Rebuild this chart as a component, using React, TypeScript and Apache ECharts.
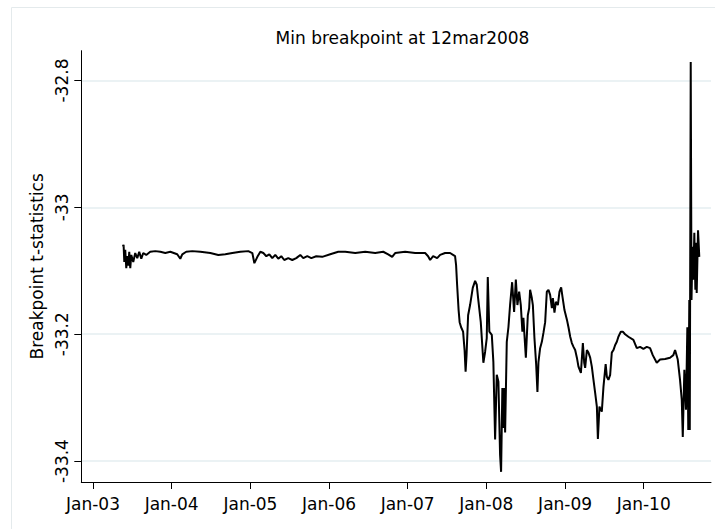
import React, { useEffect, useRef } from "react";
import * as echarts from "echarts";

// x values as decimal years, y values as breakpoint t-statistics
const decYears = [
  2003.379, 2003.389, 2003.398, 2003.410, 2003.423, 2003.436, 2003.449, 2003.461, 2003.474, 2003.487,
  2003.512, 2003.537, 2003.563, 2003.588, 2003.614, 2003.639, 2003.677, 2003.728, 2003.792, 2003.856,
  2003.919, 2003.983, 2004.071, 2004.110, 2004.135, 2004.185, 2004.262, 2004.364, 2004.491, 2004.592,
  2004.681, 2004.770, 2004.872, 2004.973, 2005.024, 2005.050, 2005.088, 2005.126, 2005.164, 2005.202,
  2005.240, 2005.278, 2005.316, 2005.354, 2005.392, 2005.430, 2005.481, 2005.532, 2005.583, 2005.634,
  2005.672, 2005.723, 2005.774, 2005.837, 2005.913, 2006.015, 2006.117, 2006.206, 2006.333, 2006.460,
  2006.587, 2006.689, 2006.752, 2006.803, 2006.841, 2006.968, 2007.095, 2007.222, 2007.260, 2007.286,
  2007.324, 2007.375, 2007.413, 2007.476, 2007.540, 2007.603, 2007.616, 2007.629, 2007.648, 2007.661,
  2007.680, 2007.705, 2007.724, 2007.737, 2007.749, 2007.769, 2007.794, 2007.828, 2007.858, 2007.879,
  2007.896, 2007.930, 2007.963, 2007.985, 2008.006, 2008.019, 2008.039, 2008.070, 2008.090, 2008.112,
  2008.133, 2008.154, 2008.175, 2008.188, 2008.204, 2008.217, 2008.230, 2008.239, 2008.260, 2008.281,
  2008.302, 2008.328, 2008.353, 2008.375, 2008.395, 2008.417, 2008.438, 2008.458, 2008.471, 2008.502,
  2008.527, 2008.544, 2008.556, 2008.578, 2008.591, 2008.611, 2008.633, 2008.649, 2008.662, 2008.683,
  2008.705, 2008.725, 2008.747, 2008.768, 2008.789, 2008.810, 2008.832, 2008.845, 2008.865, 2008.883,
  2008.908, 2008.929, 2008.950, 2008.967, 2008.992, 2009.023, 2009.043, 2009.065, 2009.086, 2009.107,
  2009.128, 2009.150, 2009.170, 2009.201, 2009.226, 2009.243, 2009.255, 2009.277, 2009.297, 2009.319,
  2009.340, 2009.361, 2009.382, 2009.404, 2009.417, 2009.437, 2009.452, 2009.467, 2009.488, 2009.516,
  2009.531, 2009.551, 2009.573, 2009.594, 2009.615, 2009.637, 2009.658, 2009.678, 2009.709, 2009.734,
  2009.763, 2009.805, 2009.869, 2009.912, 2009.954, 2009.996, 2010.039, 2010.081, 2010.115, 2010.166,
  2010.208, 2010.272, 2010.335, 2010.377, 2010.399, 2010.433, 2010.462, 2010.484, 2010.497, 2010.517,
  2010.538, 2010.555, 2010.567, 2010.580, 2010.586, 2010.598, 2010.608, 2010.621, 2010.631, 2010.644,
  2010.657, 2010.666, 2010.674, 2010.691, 2010.707,
];

const tStats = [
  -33.062, -33.059, -33.086, -33.067, -33.096, -33.077, -33.092, -33.070, -33.096, -33.075,
  -33.086, -33.072, -33.080, -33.070, -33.081, -33.072, -33.075, -33.070, -33.069, -33.070,
  -33.072, -33.070, -33.074, -33.081, -33.074, -33.070, -33.069, -33.070, -33.072, -33.075,
  -33.074, -33.072, -33.070, -33.069, -33.072, -33.088, -33.078, -33.070, -33.072, -33.077,
  -33.074, -33.080, -33.075, -33.081, -33.077, -33.083, -33.080, -33.083, -33.080, -33.075,
  -33.080, -33.077, -33.080, -33.077, -33.078, -33.074, -33.070, -33.070, -33.072, -33.070,
  -33.072, -33.070, -33.074, -33.078, -33.072, -33.070, -33.072, -33.072, -33.077, -33.083,
  -33.077, -33.080, -33.075, -33.072, -33.072, -33.077, -33.091, -33.122, -33.162, -33.181,
  -33.189, -33.196, -33.225, -33.259, -33.233, -33.170, -33.154, -33.127, -33.116, -33.122,
  -33.143, -33.181, -33.245, -33.228, -33.206, -33.110, -33.196, -33.201, -33.244, -33.366,
  -33.264, -33.275, -33.390, -33.417, -33.285, -33.348, -33.285, -33.355, -33.212, -33.189,
  -33.154, -33.118, -33.165, -33.114, -33.154, -33.133, -33.154, -33.196, -33.174, -33.237,
  -33.170, -33.159, -33.130, -33.143, -33.154, -33.206, -33.248, -33.291, -33.244, -33.222,
  -33.212, -33.198, -33.181, -33.133, -33.130, -33.138, -33.159, -33.143, -33.166, -33.149,
  -33.154, -33.133, -33.126, -33.141, -33.162, -33.177, -33.189, -33.204, -33.214, -33.220,
  -33.225, -33.237, -33.251, -33.261, -33.214, -33.245, -33.253, -33.225, -33.229, -33.237,
  -33.251, -33.272, -33.292, -33.314, -33.365, -33.314, -33.319, -33.322, -33.283, -33.247,
  -33.267, -33.272, -33.264, -33.229, -33.225, -33.217, -33.212, -33.204, -33.196, -33.196,
  -33.200, -33.204, -33.209, -33.222, -33.220, -33.223, -33.220, -33.222, -33.233, -33.245,
  -33.240, -33.239, -33.237, -33.233, -33.225, -33.240, -33.272, -33.303, -33.362, -33.256,
  -33.319, -33.189, -33.351, -33.146, -33.351, -32.771, -33.146, -33.062, -33.114, -33.040,
  -33.130, -33.056, -33.135, -33.036, -33.078,
];

const tickYears = [2003, 2004, 2005, 2006, 2007, 2008, 2009, 2010];
const yTicks = [-33.4, -33.2, -33, -32.8];
const xRange = [2002.851, 2010.856];
const yRange = [-33.433, -32.753];
const titleText = "Min breakpoint at 12mar2008";
const yAxisTitle = "Breakpoint t-statistics";

function decToTs(d: number): number {
  const y = Math.floor(d);
  const s = Date.UTC(y, 0, 1);
  const e = Date.UTC(y + 1, 0, 1);
  return s + (d - y) * (e - s);
}

const FONT = "DejaVu Sans";

export default function App() {
  const ref = useRef<HTMLDivElement>(null);
  useEffect(() => {
    if (!ref.current) return;
    const chart = echarts.init(ref.current, undefined, { renderer: "svg" });
    const data = decYears.map((d, i) => [decToTs(d), tStats[i]]);
    const xTicks = tickYears.map((y) => Date.UTC(y, 0, 1));
    chart.setOption({
      animation: false,
      backgroundColor: "#ffffff",
      textStyle: { fontFamily: FONT },
      graphic: [
        {
          type: "rect",
          z: -100,
          silent: true,
          shape: { x: 11.5, y: 7.5, width: 730, height: 540 },
          style: { fill: "#ffffff", stroke: "#e4eaec", lineWidth: 1 },
        },
        {
          type: "text",
          x: 402.5,
          y: 37.5,
          style: {
            text: titleText,
            font: `17px '${FONT}'`,
            fill: "#000",
            align: "center",
            verticalAlign: "middle",
          },
        },
      ],
      grid: { left: 81.3, right: 4, top: 50.7, bottom: 47, containLabel: false },
      xAxis: {
        type: "value",
        min: decToTs(xRange[0]),
        max: decToTs(xRange[1]),
        axisLine: { show: true, lineStyle: { color: "#000", width: 1 } },
        axisTick: { show: true, length: 7, customValues: xTicks, lineStyle: { color: "#000" } },
        axisLabel: {
          customValues: xTicks,
          margin: 13,
          fontSize: 17,
          fontFamily: FONT,
          color: "#000",
          formatter: (v: number) => {
            const y = new Date(v).getUTCFullYear();
            return "Jan-" + String(y % 100).padStart(2, "0");
          },
        },
        splitLine: { show: false },
      },
      yAxis: {
        type: "value",
        min: yRange[0],
        max: yRange[1],
        name: yAxisTitle,
        nameLocation: "middle",
        nameGap: 34,
        nameRotate: 90,
        nameTextStyle: { fontSize: 17, fontFamily: FONT, color: "#000" },
        axisLine: { show: true, lineStyle: { color: "#000", width: 1 } },
        axisTick: { show: true, length: 7, customValues: yTicks, lineStyle: { color: "#000" } },
        axisLabel: {
          customValues: yTicks,
          rotate: 90,
          margin: 11,
          fontSize: 17,
          fontFamily: FONT,
          color: "#000",
          formatter: (v: number) => String(Math.round(v * 10) / 10),
        },
        splitLine: { show: true, lineStyle: { color: "#e4eef0", width: 1.5 } },
      },
      series: [
        {
          type: "line",
          data,
          showSymbol: false,
          symbol: "none",
          lineStyle: { color: "#000", width: 2 },
          clip: true,
        },
      ],
    });
    return () => chart.dispose();
  }, []);
  return (
    <div
      ref={ref}
      style={{ position: "fixed", left: 0, top: 0, width: 715, height: 529, background: "#fff" }}
    />
  );
}
